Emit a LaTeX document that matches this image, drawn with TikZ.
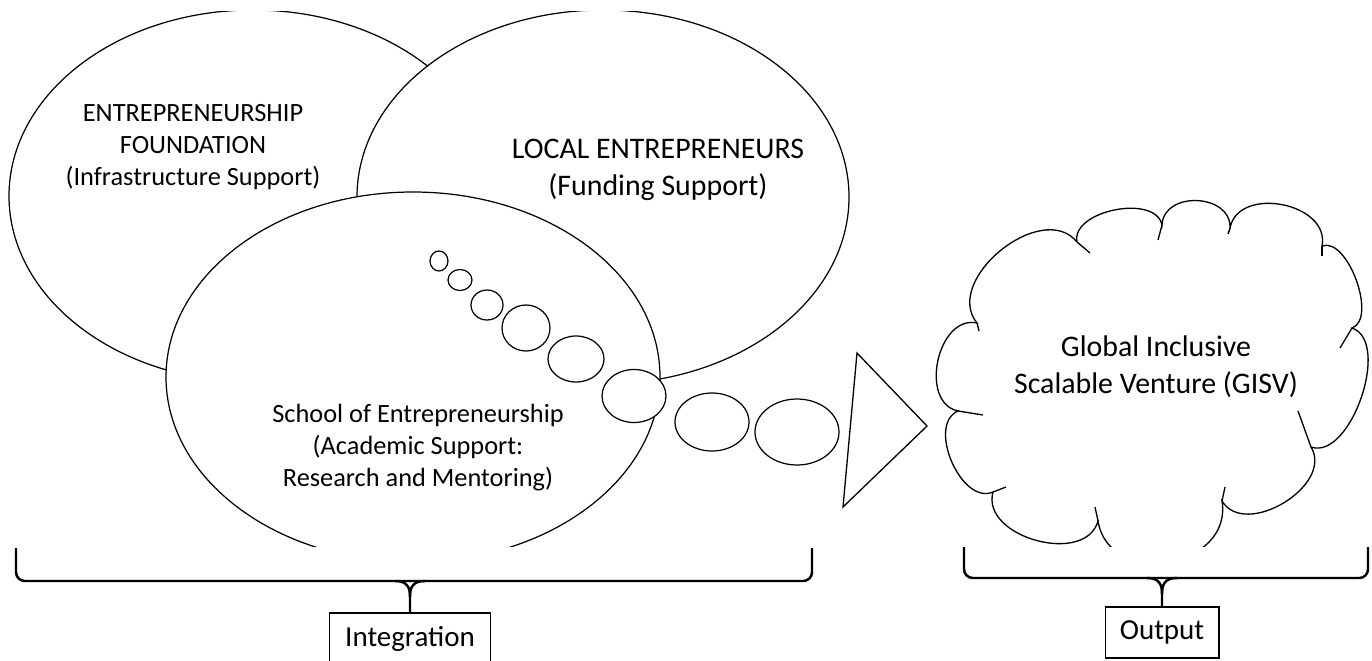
\documentclass[tikz,border=0pt]{standalone}
\usepackage{fontspec}
\setmainfont{Carlito}
\usetikzlibrary{shapes.geometric,positioning}
\tikzset{
  blob/.style 2 args={ellipse,draw,fill=white,line width=0.7pt,inner sep=0pt,
    minimum width=#1*0.02cm,minimum height=#2*0.02cm},
  smalltext/.style={align=center,font=\fontsize{15}{18.2}\selectfont},
  bigtext/.style={align=center,font=\fontsize{17}{21}\selectfont},
  tagbox/.style={draw,line width=0.6pt,inner sep=0pt,font=\fontsize{16.5}{19}\selectfont},
  bracket/.style={line width=1.4pt,line join=round},
  cloudline/.style={line width=0.75pt},
  puff/.style={bend left=90,looseness=#1},
  model/.style={x=0.02cm,y=-0.02cm}
}

\begin{document}
\begin{tikzpicture}[model]
  \useasboundingbox (0,0) rectangle (1372,660);
  \begin{scope}
    \clip (0,11.5) rectangle (1372,546.5);
    \node[blob={488}{372}] (found) at (253,196) {};
    \node[blob={492}{374}] (local) at (603,197) {};
    \node[blob={494}{370}] (school) at (413,377) {};
    \foreach \n/\x/\y/\w/\h in {1/439/261/18/20, 2/460/280/24/21, 3/487/305/32/30, 4/526/328/48/46,
                               5/576/359/56/46, 6/634/396/64/53, 7/712/422/74/58, 8/797/432/84/66}
      \node[blob={\w}{\h}] (bub\n) at (\x,\y) {};
    \draw[cloudline] (857,353) -- (927,426) -- (843,507) -- cycle;
    % cloud round the venture
    \foreach \n/\x/\y in {1/1077/242, 2/1162/225, 3/1230/228, 4/1322/246, 5/1352/328, 6/1311/447,
                         7/1222/501, 8/1098/521, 9/993/492, 10/958/411, 11/977/323}
      \coordinate (c\n) at (\x,\y);
    \draw[cloudline] (c1) to[puff=0.95] (c2) to[puff=1.3] (c3) to[puff=1.2] (c4)
      to[puff=0.8] (c5) to[puff=0.85] (c6) to[puff=1.1] (c7) to[puff=1.4] (c8)
      to[puff=1.1] (c9) to[puff=1.0] (c10) to[puff=1.15] (c11) to[puff=1.1] (c1);
    \foreach \n/\x/\y in {1/1090/253, 2/1158/240, 3/1228/234, 4/1322/256, 5/1340/348, 6/1298/411,
                         7/1225/487, 8/1095/507, 9/1006/487, 10/983/415, 11/979/331}
      \draw[cloudline] (c\n) -- (\x,\y);
  \end{scope}

  \node[smalltext] (foundtxt) at (193,147) {ENTREPRENEURSHIP\\FOUNDATION\\(Infrastructure Support)};
  \node[bigtext] (localtxt) at (658,170) {LOCAL ENTREPRENEURS\\(Funding Support)};
  \node[smalltext] (schooltxt) at (418,448) {School of Entrepreneurship\\(Academic Support:\\Research and Mentoring)};
  \node[bigtext] (gisv) at (1156,367) {Global Inclusive\\Scalable Venture (GISV)};

  \node[tagbox,minimum width=3.22cm,minimum height=1.02cm] (integ) at (410,638.5) {Integration};
  \node[tagbox,minimum width=2.28cm,minimum height=1.02cm] (out) at (1162,632.5) {Output};

  \draw[bracket,rounded corners=5pt] (16,548) -- (16,581) -- (812,581) -- (812,548);
  \draw[bracket] (395,581) .. controls (407,581) and (410,587) .. (410,597) -- (integ.north);
  \draw[bracket] (425,581) .. controls (413,581) and (410,587) .. (410,597);
  \draw[bracket,rounded corners=5pt] (964,547) -- (964,578) -- (1368,578) -- (1368,547);
  \draw[bracket] (1147,578) .. controls (1159,578) and (1162,584) .. (1162,594) -- (out.north);
  \draw[bracket] (1177,578) .. controls (1165,578) and (1162,584) .. (1162,594);
\end{tikzpicture}
\end{document}
